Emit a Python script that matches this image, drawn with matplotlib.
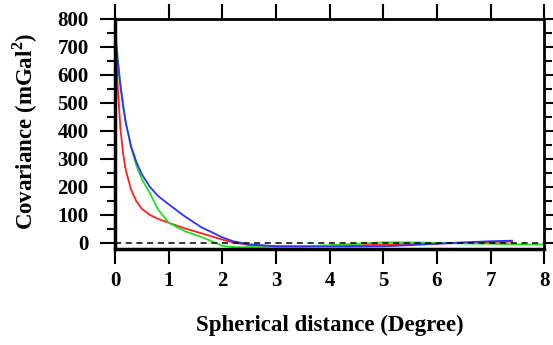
import numpy as np
import matplotlib
matplotlib.use('Agg')
import matplotlib.pyplot as plt
from matplotlib.ticker import MultipleLocator

# spherical distance (degree) and empirical covariances (mGal^2)
dist = [0, 0.05, 0.1, 0.15, 0.2, 0.3, 0.4, 0.5, 0.65, 0.8, 1.0, 1.3, 1.6, 2.0, 2.2,
        2.5, 3.0, 3.5, 4.0, 4.5, 5.0, 5.5, 6.0, 6.5, 7.0, 7.4]
cov_red = [760, 560, 410, 320, 260, 190, 148, 122, 100, 86, 72, 52, 35, 12, 2,
           -8, -12, -12, -10, -9, -6, -4, -2, 0, 3, 5]
cov_blue = [760, 650, 560, 490, 430, 345, 288, 245, 200, 168, 138, 95, 57, 20, 6,
            -5, -12, -13, -13, -13, -12, -8, -3, 2, 6, 8]
dist_green = [0, 0.05, 0.1, 0.15, 0.2, 0.3, 0.4, 0.5, 0.65, 0.8, 1.0, 1.3, 1.6, 2.0, 2.2,
              2.5, 3.0, 3.5, 4.0, 4.5, 5.0, 5.5, 6.0, 6.5, 7.0, 7.5, 8.0]
cov_green = [770, 660, 570, 495, 430, 340, 275, 228, 178, 120, 72, 42, 22, -10, -15,
             -15, -14, -12, -8, -3, 2, 2, 0, -2, -3, -5, -6]

xticks = [0, 1, 2, 3, 4, 5, 6, 7, 8]
yticks = [0, 100, 200, 300, 400, 500, 600, 700, 800]

plt.rcParams['font.family'] = ['Liberation Serif', 'DejaVu Serif']
plt.rcParams['font.weight'] = 'bold'
plt.rcParams['mathtext.fontset'] = 'custom'
plt.rcParams['mathtext.rm'] = 'Liberation Serif:bold'
plt.rcParams['mathtext.bf'] = 'Liberation Serif:bold'

fig = plt.figure(figsize=(5.53, 3.45), dpi=100)
ax = fig.add_axes([0.208, 0.278, 0.776, 0.667])

ax.plot(dist, cov_red, color='#ff2020', lw=1.3)
ax.plot(dist_green, cov_green, color='#20e020', lw=1.3)
ax.plot(dist, cov_blue, color='#3030ff', lw=1.3)
ax.axhline(0, color='black', lw=1.1, ls=(0, (4, 3)))

ax.set_xlim(0, 8)
ax.set_ylim(-22, 800)
ax.set_xticks(xticks)
ax.set_yticks(yticks)
ax.yaxis.set_minor_locator(MultipleLocator(50))

ax.tick_params(which='both', direction='out', top=True, right=True,
               labeltop=False, labelright=False, width=1.5, labelsize=15)
ax.tick_params(which='major', length=11)
ax.tick_params(which='minor', length=6)
ax.tick_params(axis='x', which='minor', top=False, bottom=False)
ax.tick_params(axis='x', pad=5)
ax.tick_params(axis='y', pad=8)

for side in ['left', 'bottom']:
    ax.spines[side].set_linewidth(2.5)
for side in ['top', 'right']:
    ax.spines[side].set_linewidth(2.0)

ax.set_xlabel('Spherical distance (Degree)', fontsize=16.5, fontweight='bold', va='center')
ax.xaxis.set_label_coords(0.5, -0.33)
ax.set_ylabel(r'Covariance (mGal$^{\mathbf{2}}$)', fontsize=16.5, fontweight='bold', va='center')
ax.yaxis.set_label_coords(-0.21, 0.51)

fig.savefig('out.png', dpi=100)
